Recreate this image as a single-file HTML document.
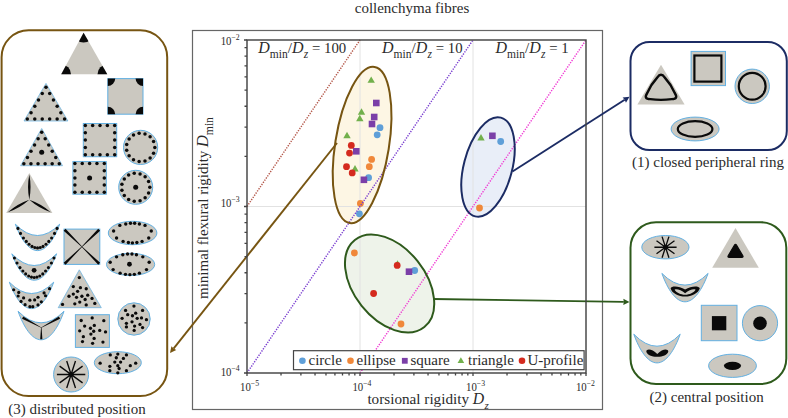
<!DOCTYPE html>
<html><head><meta charset="utf-8"><style>
html,body{margin:0;padding:0;background:#fff;}
svg{display:block;font-family:"Liberation Serif", serif;}
</style></head><body>
<svg width="788" height="418" viewBox="0 0 788 418">
<text x="412" y="13" text-anchor="middle" font-size="15" fill="#2b2b2b">collenchyma fibres</text>
<rect x="192.5" y="30.5" width="410" height="379" fill="none" stroke="#666" stroke-width="1.2"/>
<ellipse cx="362.1" cy="145.0" rx="26.9" ry="79.0" transform="rotate(9.07 362.1 145.0)" fill="#fdf6e4"/>
<ellipse cx="488.0" cy="167.0" rx="24.2" ry="51.0" transform="rotate(14.6 488.0 167.0)" fill="#e9eef8"/>
<ellipse cx="389.6" cy="283.5" rx="55.7" ry="35.8" transform="rotate(51.4 389.6 283.5)" fill="#eef3ea"/>
<g stroke="#e2e2e2" stroke-width="1">
<line x1="360.0" y1="40" x2="360.0" y2="373"/>
<line x1="473.0" y1="40" x2="473.0" y2="373"/>
<line x1="247" y1="206.5" x2="586" y2="206.5"/>
</g>
<path d="M371.20,76.43 L374.90,82.84 L367.50,82.84 Z" fill="#72b04c"/>
<rect x="373.00" y="99.70" width="6.6" height="6.6" fill="#7b3fa8"/>
<path d="M361.50,108.33 L365.20,114.74 L357.80,114.74 Z" fill="#72b04c"/>
<path d="M359.80,114.73 L363.50,121.14 L356.10,121.14 Z" fill="#72b04c"/>
<rect x="370.90" y="113.70" width="6.6" height="6.6" fill="#7b3fa8"/>
<rect x="368.70" y="120.70" width="6.6" height="6.6" fill="#7b3fa8"/>
<circle cx="380" cy="127.7" r="3.4" fill="#5f9fd8"/>
<circle cx="377.2" cy="134.8" r="3.4" fill="#5f9fd8"/>
<path d="M347.00,131.73 L350.70,138.14 L343.30,138.14 Z" fill="#72b04c"/>
<path d="M355.00,165.03 L358.70,171.44 L351.30,171.44 Z" fill="#72b04c"/>
<circle cx="351.3" cy="145.4" r="3.4" fill="#d42a1e"/>
<rect x="353.00" y="148.00" width="6.6" height="6.6" fill="#7b3fa8"/>
<circle cx="349.5" cy="153.1" r="3.4" fill="#d42a1e"/>
<circle cx="371.6" cy="159.4" r="3.4" fill="#f0883a"/>
<circle cx="369.3" cy="166.7" r="3.4" fill="#f0883a"/>
<circle cx="346.5" cy="166.7" r="3.4" fill="#d42a1e"/>
<circle cx="352.2" cy="172.9" r="3.4" fill="#d42a1e"/>
<circle cx="368.6" cy="177.7" r="3.4" fill="#5f9fd8"/>
<rect x="360.60" y="176.50" width="6.6" height="6.6" fill="#7b3fa8"/>
<circle cx="360.4" cy="203.4" r="3.4" fill="#f0883a"/>
<circle cx="359.4" cy="213.8" r="3.4" fill="#5f9fd8"/>
<path d="M481.00,134.03 L484.70,140.44 L477.30,140.44 Z" fill="#72b04c"/>
<rect x="489.10" y="132.50" width="6.6" height="6.6" fill="#7b3fa8"/>
<circle cx="500.7" cy="141.5" r="3.4" fill="#5f9fd8"/>
<circle cx="479.5" cy="208" r="3.4" fill="#f0883a"/>
<circle cx="354.4" cy="253" r="3.4" fill="#f0883a"/>
<path d="M397.50,260.35 L399.50,263.82 L395.50,263.82 Z" fill="#72b04c"/>
<circle cx="397.2" cy="265.4" r="3.4" fill="#d42a1e"/>
<circle cx="414.7" cy="270.5" r="3.4" fill="#5f9fd8"/>
<rect x="405.70" y="268.40" width="6.6" height="6.6" fill="#7b3fa8"/>
<circle cx="373.6" cy="293.5" r="3.4" fill="#d42a1e"/>
<circle cx="401" cy="324" r="3.4" fill="#f0883a"/>
<line x1="247.00" y1="206.50" x2="360.00" y2="40.00" stroke="#b4584a" stroke-width="1.45" stroke-dasharray="1.3 1.3"/>
<line x1="247.00" y1="373.00" x2="473.00" y2="40.00" stroke="#7a3fd0" stroke-width="1.45" stroke-dasharray="1.3 1.3"/>
<line x1="360.00" y1="373.00" x2="586.00" y2="40.00" stroke="#f03cd4" stroke-width="1.45" stroke-dasharray="1.3 1.3"/>
<line x1="337" y1="143" x2="173.55" y2="348.54" stroke="#775512" stroke-width="1.9"/>
<path d="M170.00,353.00 L171.43,346.22 L173.55,348.54 L176.29,350.08 Z" fill="#775512"/>
<line x1="512.5" y1="171.5" x2="624.70" y2="99.77" stroke="#1c2c64" stroke-width="1.9"/>
<path d="M629.50,96.70 L625.95,102.65 L624.69,99.77 L622.61,97.43 Z" fill="#1c2c64"/>
<line x1="433" y1="299" x2="623.80" y2="301.91" stroke="#2e5a1c" stroke-width="1.9"/>
<path d="M629.50,302.00 L623.25,305.00 L623.80,301.91 L623.35,298.81 Z" fill="#2e5a1c"/>
<ellipse cx="362.1" cy="145.0" rx="26.9" ry="79.0" transform="rotate(9.07 362.1 145.0)" fill="none" stroke="#775512" stroke-width="2.0"/>
<ellipse cx="488.0" cy="167.0" rx="24.2" ry="51.0" transform="rotate(14.6 488.0 167.0)" fill="none" stroke="#1c2c64" stroke-width="2.0"/>
<ellipse cx="389.6" cy="283.5" rx="55.7" ry="35.8" transform="rotate(51.4 389.6 283.5)" fill="none" stroke="#2e5a1c" stroke-width="2.0"/>
<rect x="247" y="40" width="339" height="333" fill="none" stroke="#444" stroke-width="1.45"/>
<path d="M247.00,373 v3 M281.02,373 v2.5 M300.91,373 v2.5 M315.03,373 v2.5 M325.98,373 v2.5 M334.93,373 v2.5 M342.50,373 v2.5 M349.05,373 v2.5 M354.83,373 v2.5 M360.00,373 v3 M394.02,373 v2.5 M413.91,373 v2.5 M428.03,373 v2.5 M438.98,373 v2.5 M447.93,373 v2.5 M455.50,373 v2.5 M462.05,373 v2.5 M467.83,373 v2.5 M473.00,373 v3 M507.02,373 v2.5 M526.91,373 v2.5 M541.03,373 v2.5 M551.98,373 v2.5 M560.93,373 v2.5 M568.50,373 v2.5 M575.05,373 v2.5 M580.83,373 v2.5 M586,373 v3 M247,373.00 h-3 M247,322.88 h-2.5 M247,293.56 h-2.5 M247,272.76 h-2.5 M247,256.62 h-2.5 M247,243.44 h-2.5 M247,232.29 h-2.5 M247,222.64 h-2.5 M247,214.12 h-2.5 M247,206.50 h-3 M247,156.38 h-2.5 M247,127.06 h-2.5 M247,106.26 h-2.5 M247,90.12 h-2.5 M247,76.94 h-2.5 M247,65.79 h-2.5 M247,56.14 h-2.5 M247,47.62 h-2.5 M247,40 h-3" stroke="#444" stroke-width="1.3" fill="none"/>
<text transform="translate(249.50,390.90) scale(0.9,1)" font-size="12" fill="#2b2b2b" text-anchor="middle">10<tspan dy="-4.8" font-size="8.6">−5</tspan></text>
<text transform="translate(361.90,390.90) scale(0.9,1)" font-size="12" fill="#2b2b2b" text-anchor="middle">10<tspan dy="-4.8" font-size="8.6">−4</tspan></text>
<text transform="translate(475.50,390.90) scale(0.9,1)" font-size="12" fill="#2b2b2b" text-anchor="middle">10<tspan dy="-4.8" font-size="8.6">−3</tspan></text>
<text transform="translate(585.40,390.90) scale(0.9,1)" font-size="12" fill="#2b2b2b" text-anchor="middle">10<tspan dy="-4.8" font-size="8.6">−2</tspan></text>
<text transform="translate(239.70,44.50) scale(0.9,1)" font-size="12" fill="#2b2b2b" text-anchor="end">10<tspan dy="-4.8" font-size="8.6">−2</tspan></text>
<text transform="translate(239.70,206.70) scale(0.9,1)" font-size="12" fill="#2b2b2b" text-anchor="end">10<tspan dy="-4.8" font-size="8.6">−3</tspan></text>
<text transform="translate(239.70,375.60) scale(0.9,1)" font-size="12" fill="#2b2b2b" text-anchor="end">10<tspan dy="-4.8" font-size="8.6">−4</tspan></text>
<text x="367.4" y="403.7" font-size="15.2" fill="#2b2b2b">torsional rigidity <tspan font-style="italic" font-size="15.8">D</tspan><tspan font-style="italic" font-size="11" dy="5" dx="0.3">z</tspan></text>
<text transform="translate(208.2,299) rotate(-90)" font-size="15" fill="#2b2b2b">minimal flexural rigidity <tspan font-style="italic" font-size="16.8" dx="-0.3">D</tspan><tspan font-size="11.6" dy="4.6">min</tspan></text>
<text x="258.2" y="52.7" font-size="15.2" fill="#2b2b2b"><tspan font-style="italic" font-size="16">D</tspan><tspan font-size="11.5" dy="5">min</tspan><tspan dy="-5">/</tspan><tspan font-style="italic" font-size="16">D</tspan><tspan font-style="italic" font-size="11.5" dy="5.6" dx="0.3">z</tspan><tspan dy="-5.6" dx="0" font-size="14.8"> = 100</tspan></text>
<text x="382" y="52.7" font-size="15.2" fill="#2b2b2b"><tspan font-style="italic" font-size="16">D</tspan><tspan font-size="11.5" dy="5">min</tspan><tspan dy="-5">/</tspan><tspan font-style="italic" font-size="16">D</tspan><tspan font-style="italic" font-size="11.5" dy="5.6" dx="0.3">z</tspan><tspan dy="-5.6" dx="0" font-size="14.8"> = 10</tspan></text>
<text x="495.5" y="52.7" font-size="15.2" fill="#2b2b2b"><tspan font-style="italic" font-size="16">D</tspan><tspan font-size="11.5" dy="5">min</tspan><tspan dy="-5">/</tspan><tspan font-style="italic" font-size="16">D</tspan><tspan font-style="italic" font-size="11.5" dy="5.6" dx="0.3">z</tspan><tspan dy="-5.6" dx="0" font-size="14.8"> = 1</tspan></text>
<rect x="293.5" y="350.7" width="290.6" height="19" fill="#fff" stroke="#444" stroke-width="1.2"/>
<circle cx="302.4" cy="360.8" r="3.3" fill="#5f9fd8"/>
<text x="308.5" y="365" font-size="15" fill="#2b2b2b">circle</text>
<circle cx="350.5" cy="360.8" r="3.3" fill="#f0883a"/>
<text x="356.5" y="365" font-size="15" fill="#2b2b2b">ellipse</text>
<rect x="401.90" y="357.90" width="5.8" height="5.8" fill="#7b3fa8"/>
<text x="410.5" y="365" font-size="15" fill="#2b2b2b">square</text>
<path d="M460.90,357.26 L464.20,362.97 L457.60,362.97 Z" fill="#72b04c"/>
<text x="468" y="365" font-size="15" fill="#2b2b2b">triangle</text>
<circle cx="522" cy="360.8" r="3.3" fill="#d42a1e"/>
<text x="527.5" y="365" font-size="15" fill="#2b2b2b">U-profile</text>
<rect x="1.6" y="30.2" width="165.6" height="365.8" rx="27" fill="none" stroke="#775512" stroke-width="2"/>
<rect x="630.5" y="42" width="156.3" height="108" rx="19" fill="none" stroke="#1c2c64" stroke-width="2"/>
<rect x="630.5" y="222.2" width="155.8" height="161.8" rx="25.5" fill="none" stroke="#2e5a1c" stroke-width="2"/>
<text x="708" y="167" text-anchor="middle" font-size="15" fill="#2b2b2b">(1) closed peripheral ring</text>
<text x="706.6" y="402.4" text-anchor="middle" font-size="15" fill="#2b2b2b">(2) central position</text>
<text x="77" y="414" text-anchor="middle" font-size="15" fill="#2b2b2b">(3) distributed position</text>
<path d="M661.00,64.80 L684.60,104.60 L637.40,104.60 Z" fill="#cbc8c0" stroke="none" stroke-width="0.7"/>
<path d="M657.19,77.67 Q661.00,71.80 664.81,77.67 Q671.27,84.72 674.89,93.23 Q678.70,99.10 671.70,99.10 Q661.00,100.70 650.30,99.10 Q643.30,99.10 647.11,93.23 Q650.73,84.72 657.19,77.67 Z" fill="none" stroke="#0a0a0a" stroke-width="2.4"/>
<rect x="691.10" y="51.40" width="34.40" height="34.20" fill="#cbc8c0" stroke="#62b0e2" stroke-width="1.0"/>
<rect x="694.4" y="55.5" width="27" height="26.1" fill="none" stroke="#0a0a0a" stroke-width="2.2"/>
<circle cx="752.20" cy="86.30" r="17.2" fill="#cbc8c0" stroke="#62b0e2" stroke-width="1.0"/>
<circle cx="752.2" cy="86.3" r="13.4" fill="none" stroke="#0a0a0a" stroke-width="2.2"/>
<ellipse cx="695.10" cy="129.00" rx="24" ry="11.9" fill="#cbc8c0" stroke="#62b0e2" stroke-width="1.0"/>
<ellipse cx="695.1" cy="129" rx="17.3" ry="7.9" fill="none" stroke="#0a0a0a" stroke-width="2.2"/>
<ellipse cx="665.40" cy="247.20" rx="23.6" ry="11.7" fill="#cbc8c0" stroke="#62b0e2" stroke-width="1.0"/>
<path d="M654.40,247.20 L676.60,247.20 M656.52,240.68 L674.48,253.72 M662.07,236.64 L668.93,257.76 M668.93,236.64 L662.07,257.76 M674.48,240.68 L656.52,253.72" stroke="#0a0a0a" stroke-width="1.35" fill="none"/>
<circle cx="665.50" cy="247.20" r="2.3" fill="#0a0a0a"/>
<path d="M735.50,228.00 L758.80,267.80 L712.20,267.80 Z" fill="#cbc8c0" stroke="none" stroke-width="0.7"/>
<path d="M734.38,245.20 Q735.50,243.30 736.62,245.20 L742.68,255.50 Q743.80,257.40 741.60,257.40 L729.40,257.40 Q727.20,257.40 728.32,255.50 Z" fill="#0a0a0a" stroke="#0a0a0a" stroke-width="1.2"/>
<path d="M661.90,273.40 Q685.00,296.80 708.10,273.40 C702.56,289.02 694.24,301.80 685.00,301.80 C675.76,301.80 667.44,289.02 661.90,273.40 Z" fill="#cbc8c0" stroke="#62b0e2" stroke-width="1.0"/>
<path d="M670.6,288.2 C671.5,285.6 679,285.6 685.1,289.6 C691.2,285.6 698.7,285.6 699.8,288.2 C698.5,293.2 691.5,296.6 685.1,296.6 C678.7,296.6 671.7,293.2 670.6,288.2 Z M674.6,289.8 C676,288.6 681,289.6 685.1,293.2 C689.2,289.6 694.2,288.6 695.6,289.8 C694,292.6 689.5,294.8 685.1,294.8 C680.7,294.8 676.2,292.6 674.6,289.8 Z" fill="#0a0a0a" fill-rule="evenodd"/>
<rect x="701.30" y="305.30" width="35.70" height="35.40" fill="#cbc8c0" stroke="#62b0e2" stroke-width="1.0"/>
<rect x="711.9" y="316.1" width="14.4" height="14.2" fill="#0a0a0a"/>
<circle cx="760.00" cy="323.20" r="17.6" fill="#cbc8c0" stroke="#62b0e2" stroke-width="1.0"/>
<circle cx="760" cy="323.2" r="6.8" fill="#0a0a0a"/>
<path d="M633.80,334.20 Q657.00,358.20 680.20,334.20 C674.63,349.98 666.28,362.90 657.00,362.90 C647.72,362.90 639.37,349.98 633.80,334.20 Z" fill="#cbc8c0" stroke="#62b0e2" stroke-width="1.0"/>
<path d="M646.3,351.4 C646.5,348.5 652,348.5 657.3,354 C662.5,348.5 668,348.5 668.3,351.4 C667.5,355 662,357 657.3,356.8 C652.5,357 647,355 646.3,351.4 Z" fill="#0a0a0a"/>
<ellipse cx="732.50" cy="365.80" rx="23.9" ry="11.6" fill="#cbc8c0" stroke="#62b0e2" stroke-width="1.0"/>
<ellipse cx="732.5" cy="365.8" rx="8.6" ry="4.1" fill="#0a0a0a"/>
<path d="M83.60,32.80 L107.30,74.20 L61.20,74.20 Z" fill="#cbc8c0" stroke="none" stroke-width="0.7"/>
<clipPath id="ct3"><path d="M83.60,32.80 L107.30,74.20 L61.20,74.20 Z"/></clipPath>
<g clip-path="url(#ct3)" fill="#0a0a0a"><circle cx="83.60" cy="32.80" r="9.8"/><circle cx="107.30" cy="74.20" r="9.8"/><circle cx="61.20" cy="74.20" r="9.8"/></g>
<rect x="107.80" y="78.60" width="35.20" height="35.60" fill="#cbc8c0" stroke="#62b0e2" stroke-width="1.0"/>
<clipPath id="cs3"><rect x="107.8" y="78.6" width="35.2" height="35.6"/></clipPath>
<g clip-path="url(#cs3)" fill="#0a0a0a"><circle cx="107.8" cy="78.6" r="7.4"/><circle cx="143" cy="78.6" r="7.4"/><circle cx="107.8" cy="114.2" r="7.4"/><circle cx="143" cy="114.2" r="7.4"/></g>
<path d="M46.00,83.40 L67.90,121.00 L24.00,121.00 Z" fill="#cbc8c0" stroke="#62b0e2" stroke-width="0.7"/>
<circle cx="46.00" cy="87.17" r="1.75" fill="#0a0a0a"/>
<circle cx="49.72" cy="93.55" r="1.75" fill="#0a0a0a"/>
<circle cx="53.44" cy="99.94" r="1.75" fill="#0a0a0a"/>
<circle cx="57.16" cy="106.33" r="1.75" fill="#0a0a0a"/>
<circle cx="60.87" cy="112.71" r="1.75" fill="#0a0a0a"/>
<circle cx="64.59" cy="119.10" r="1.75" fill="#0a0a0a"/>
<circle cx="57.14" cy="119.10" r="1.75" fill="#0a0a0a"/>
<circle cx="49.68" cy="119.10" r="1.75" fill="#0a0a0a"/>
<circle cx="42.23" cy="119.10" r="1.75" fill="#0a0a0a"/>
<circle cx="34.77" cy="119.10" r="1.75" fill="#0a0a0a"/>
<circle cx="27.31" cy="119.10" r="1.75" fill="#0a0a0a"/>
<circle cx="31.05" cy="112.71" r="1.75" fill="#0a0a0a"/>
<circle cx="34.79" cy="106.33" r="1.75" fill="#0a0a0a"/>
<circle cx="38.52" cy="99.94" r="1.75" fill="#0a0a0a"/>
<circle cx="42.26" cy="93.55" r="1.75" fill="#0a0a0a"/>
<path d="M41.70,128.50 L62.50,165.70 L20.60,165.70 Z" fill="#cbc8c0" stroke="#62b0e2" stroke-width="0.7"/>
<circle cx="41.69" cy="132.37" r="1.75" fill="#0a0a0a"/>
<circle cx="45.20" cy="138.66" r="1.75" fill="#0a0a0a"/>
<circle cx="48.72" cy="144.94" r="1.75" fill="#0a0a0a"/>
<circle cx="52.23" cy="151.23" r="1.75" fill="#0a0a0a"/>
<circle cx="55.75" cy="157.51" r="1.75" fill="#0a0a0a"/>
<circle cx="59.26" cy="163.80" r="1.75" fill="#0a0a0a"/>
<circle cx="52.18" cy="163.80" r="1.75" fill="#0a0a0a"/>
<circle cx="45.10" cy="163.80" r="1.75" fill="#0a0a0a"/>
<circle cx="38.02" cy="163.80" r="1.75" fill="#0a0a0a"/>
<circle cx="30.94" cy="163.80" r="1.75" fill="#0a0a0a"/>
<circle cx="23.86" cy="163.80" r="1.75" fill="#0a0a0a"/>
<circle cx="27.43" cy="157.51" r="1.75" fill="#0a0a0a"/>
<circle cx="30.99" cy="151.23" r="1.75" fill="#0a0a0a"/>
<circle cx="34.56" cy="144.94" r="1.75" fill="#0a0a0a"/>
<circle cx="38.12" cy="138.66" r="1.75" fill="#0a0a0a"/>
<circle cx="41.70" cy="152.20" r="2.5" fill="#0a0a0a"/>
<rect x="83.30" y="123.50" width="33.40" height="33.20" fill="#cbc8c0" stroke="#62b0e2" stroke-width="1.0"/>
<circle cx="85.30" cy="125.50" r="1.75" fill="#0a0a0a"/>
<circle cx="92.65" cy="125.50" r="1.75" fill="#0a0a0a"/>
<circle cx="100.00" cy="125.50" r="1.75" fill="#0a0a0a"/>
<circle cx="107.35" cy="125.50" r="1.75" fill="#0a0a0a"/>
<circle cx="114.70" cy="125.50" r="1.75" fill="#0a0a0a"/>
<circle cx="114.70" cy="132.80" r="1.75" fill="#0a0a0a"/>
<circle cx="114.70" cy="140.10" r="1.75" fill="#0a0a0a"/>
<circle cx="114.70" cy="147.40" r="1.75" fill="#0a0a0a"/>
<circle cx="114.70" cy="154.70" r="1.75" fill="#0a0a0a"/>
<circle cx="107.35" cy="154.70" r="1.75" fill="#0a0a0a"/>
<circle cx="100.00" cy="154.70" r="1.75" fill="#0a0a0a"/>
<circle cx="92.65" cy="154.70" r="1.75" fill="#0a0a0a"/>
<circle cx="85.30" cy="154.70" r="1.75" fill="#0a0a0a"/>
<circle cx="85.30" cy="147.40" r="1.75" fill="#0a0a0a"/>
<circle cx="85.30" cy="140.10" r="1.75" fill="#0a0a0a"/>
<circle cx="85.30" cy="132.80" r="1.75" fill="#0a0a0a"/>
<rect x="72.90" y="161.60" width="33.40" height="32.60" fill="#cbc8c0" stroke="#62b0e2" stroke-width="1.0"/>
<circle cx="74.90" cy="163.60" r="1.75" fill="#0a0a0a"/>
<circle cx="82.25" cy="163.60" r="1.75" fill="#0a0a0a"/>
<circle cx="89.60" cy="163.60" r="1.75" fill="#0a0a0a"/>
<circle cx="96.95" cy="163.60" r="1.75" fill="#0a0a0a"/>
<circle cx="104.30" cy="163.60" r="1.75" fill="#0a0a0a"/>
<circle cx="104.30" cy="170.75" r="1.75" fill="#0a0a0a"/>
<circle cx="104.30" cy="177.90" r="1.75" fill="#0a0a0a"/>
<circle cx="104.30" cy="185.05" r="1.75" fill="#0a0a0a"/>
<circle cx="104.30" cy="192.20" r="1.75" fill="#0a0a0a"/>
<circle cx="96.95" cy="192.20" r="1.75" fill="#0a0a0a"/>
<circle cx="89.60" cy="192.20" r="1.75" fill="#0a0a0a"/>
<circle cx="82.25" cy="192.20" r="1.75" fill="#0a0a0a"/>
<circle cx="74.90" cy="192.20" r="1.75" fill="#0a0a0a"/>
<circle cx="74.90" cy="185.05" r="1.75" fill="#0a0a0a"/>
<circle cx="74.90" cy="177.90" r="1.75" fill="#0a0a0a"/>
<circle cx="74.90" cy="170.75" r="1.75" fill="#0a0a0a"/>
<circle cx="89.60" cy="177.90" r="2.5" fill="#0a0a0a"/>
<circle cx="140.60" cy="147.40" r="17.1" fill="#cbc8c0" stroke="#62b0e2" stroke-width="1.0"/>
<circle cx="154.80" cy="147.40" r="1.75" fill="#0a0a0a"/>
<circle cx="153.57" cy="153.18" r="1.75" fill="#0a0a0a"/>
<circle cx="150.10" cy="157.95" r="1.75" fill="#0a0a0a"/>
<circle cx="144.99" cy="160.91" r="1.75" fill="#0a0a0a"/>
<circle cx="139.12" cy="161.52" r="1.75" fill="#0a0a0a"/>
<circle cx="133.50" cy="159.70" r="1.75" fill="#0a0a0a"/>
<circle cx="129.11" cy="155.75" r="1.75" fill="#0a0a0a"/>
<circle cx="126.71" cy="150.35" r="1.75" fill="#0a0a0a"/>
<circle cx="126.71" cy="144.45" r="1.75" fill="#0a0a0a"/>
<circle cx="129.11" cy="139.05" r="1.75" fill="#0a0a0a"/>
<circle cx="133.50" cy="135.10" r="1.75" fill="#0a0a0a"/>
<circle cx="139.12" cy="133.28" r="1.75" fill="#0a0a0a"/>
<circle cx="144.99" cy="133.89" r="1.75" fill="#0a0a0a"/>
<circle cx="150.10" cy="136.85" r="1.75" fill="#0a0a0a"/>
<circle cx="153.57" cy="141.62" r="1.75" fill="#0a0a0a"/>
<circle cx="135.70" cy="187.30" r="17" fill="#cbc8c0" stroke="#62b0e2" stroke-width="1.0"/>
<circle cx="149.80" cy="187.30" r="1.75" fill="#0a0a0a"/>
<circle cx="148.58" cy="193.03" r="1.75" fill="#0a0a0a"/>
<circle cx="145.13" cy="197.78" r="1.75" fill="#0a0a0a"/>
<circle cx="140.06" cy="200.71" r="1.75" fill="#0a0a0a"/>
<circle cx="134.23" cy="201.32" r="1.75" fill="#0a0a0a"/>
<circle cx="128.65" cy="199.51" r="1.75" fill="#0a0a0a"/>
<circle cx="124.29" cy="195.59" r="1.75" fill="#0a0a0a"/>
<circle cx="121.91" cy="190.23" r="1.75" fill="#0a0a0a"/>
<circle cx="121.91" cy="184.37" r="1.75" fill="#0a0a0a"/>
<circle cx="124.29" cy="179.01" r="1.75" fill="#0a0a0a"/>
<circle cx="128.65" cy="175.09" r="1.75" fill="#0a0a0a"/>
<circle cx="134.23" cy="173.28" r="1.75" fill="#0a0a0a"/>
<circle cx="140.06" cy="173.89" r="1.75" fill="#0a0a0a"/>
<circle cx="145.13" cy="176.82" r="1.75" fill="#0a0a0a"/>
<circle cx="148.58" cy="181.57" r="1.75" fill="#0a0a0a"/>
<circle cx="135.70" cy="187.30" r="2.5" fill="#0a0a0a"/>
<path d="M29.30,173.10 L52.40,212.90 L6.20,212.90 Z" fill="#cbc8c0" stroke="none" stroke-width="0.7"/>
<path d="M29.30,199.70 Q31.80,187.10 29.30,174.50 Q26.80,187.10 29.30,199.70 Z M29.30,199.70 Q38.79,208.11 50.80,212.20 Q41.31,203.79 29.30,199.70 Z M29.30,199.70 Q17.29,203.79 7.80,212.20 Q19.81,208.11 29.30,199.70 Z" fill="#0a0a0a"/>
<path d="M15.35,224.20 Q37.52,246.80 59.70,224.20 C54.38,238.72 46.39,250.60 37.52,250.60 C28.65,250.60 20.67,238.72 15.35,224.20 Z" fill="#cbc8c0" stroke="#62b0e2" stroke-width="1.0"/>
<circle cx="17.95" cy="228.40" r="1.55" fill="#0a0a0a"/>
<circle cx="57.10" cy="228.40" r="1.55" fill="#0a0a0a"/>
<circle cx="20.51" cy="233.39" r="1.55" fill="#0a0a0a"/>
<circle cx="54.54" cy="233.39" r="1.55" fill="#0a0a0a"/>
<circle cx="23.45" cy="238.01" r="1.55" fill="#0a0a0a"/>
<circle cx="51.60" cy="238.01" r="1.55" fill="#0a0a0a"/>
<circle cx="26.30" cy="241.41" r="1.55" fill="#0a0a0a"/>
<circle cx="48.75" cy="241.41" r="1.55" fill="#0a0a0a"/>
<circle cx="29.06" cy="244.29" r="1.55" fill="#0a0a0a"/>
<circle cx="45.99" cy="244.29" r="1.55" fill="#0a0a0a"/>
<circle cx="32.05" cy="246.40" r="1.55" fill="#0a0a0a"/>
<circle cx="43.00" cy="246.40" r="1.55" fill="#0a0a0a"/>
<circle cx="34.81" cy="247.51" r="1.55" fill="#0a0a0a"/>
<circle cx="40.24" cy="247.51" r="1.55" fill="#0a0a0a"/>
<circle cx="37.52" cy="247.91" r="1.55" fill="#0a0a0a"/>
<path d="M11.80,253.80 Q34.20,277.20 56.60,253.80 C51.22,268.32 43.16,280.20 34.20,280.20 C25.24,280.20 17.18,268.32 11.80,253.80 Z" fill="#cbc8c0" stroke="#62b0e2" stroke-width="1.0"/>
<circle cx="14.43" cy="258.00" r="1.55" fill="#0a0a0a"/>
<circle cx="53.97" cy="258.00" r="1.55" fill="#0a0a0a"/>
<circle cx="17.01" cy="262.99" r="1.55" fill="#0a0a0a"/>
<circle cx="51.39" cy="262.99" r="1.55" fill="#0a0a0a"/>
<circle cx="19.98" cy="267.61" r="1.55" fill="#0a0a0a"/>
<circle cx="48.42" cy="267.61" r="1.55" fill="#0a0a0a"/>
<circle cx="22.86" cy="271.01" r="1.55" fill="#0a0a0a"/>
<circle cx="45.54" cy="271.01" r="1.55" fill="#0a0a0a"/>
<circle cx="25.65" cy="273.89" r="1.55" fill="#0a0a0a"/>
<circle cx="42.75" cy="273.89" r="1.55" fill="#0a0a0a"/>
<circle cx="28.67" cy="276.00" r="1.55" fill="#0a0a0a"/>
<circle cx="39.73" cy="276.00" r="1.55" fill="#0a0a0a"/>
<circle cx="31.46" cy="277.11" r="1.55" fill="#0a0a0a"/>
<circle cx="36.94" cy="277.11" r="1.55" fill="#0a0a0a"/>
<circle cx="34.20" cy="277.51" r="1.55" fill="#0a0a0a"/>
<circle cx="34.10" cy="270.30" r="2.4" fill="#0a0a0a"/>
<path d="M9.35,282.20 Q31.53,304.80 53.70,282.20 C48.38,296.72 40.40,308.60 31.53,308.60 C22.66,308.60 14.67,296.72 9.35,282.20 Z" fill="#cbc8c0" stroke="#62b0e2" stroke-width="1.0"/>
<circle cx="13.71" cy="289.73" r="1.6" fill="#0a0a0a"/>
<circle cx="18.73" cy="292.41" r="1.6" fill="#0a0a0a"/>
<circle cx="18.14" cy="296.01" r="1.6" fill="#0a0a0a"/>
<circle cx="23.59" cy="297.93" r="1.6" fill="#0a0a0a"/>
<circle cx="21.08" cy="301.45" r="1.6" fill="#0a0a0a"/>
<circle cx="25.10" cy="304.63" r="1.6" fill="#0a0a0a"/>
<circle cx="29.87" cy="306.64" r="1.6" fill="#0a0a0a"/>
<circle cx="32.80" cy="306.64" r="1.6" fill="#0a0a0a"/>
<circle cx="29.87" cy="300.19" r="1.6" fill="#0a0a0a"/>
<circle cx="34.64" cy="299.94" r="1.6" fill="#0a0a0a"/>
<circle cx="37.99" cy="297.26" r="1.6" fill="#0a0a0a"/>
<circle cx="44.11" cy="292.91" r="1.6" fill="#0a0a0a"/>
<circle cx="49.55" cy="288.72" r="1.6" fill="#0a0a0a"/>
<circle cx="45.53" cy="295.76" r="1.6" fill="#0a0a0a"/>
<circle cx="41.34" cy="301.87" r="1.6" fill="#0a0a0a"/>
<circle cx="37.99" cy="304.97" r="1.6" fill="#0a0a0a"/>
<path d="M18.10,311.30 Q41.05,334.30 64.00,311.30 C58.49,326.98 50.23,339.80 41.05,339.80 C31.87,339.80 23.61,326.98 18.10,311.30 Z" fill="#cbc8c0" stroke="#62b0e2" stroke-width="1.0"/>
<path d="M22.03,318.66 L41.18,327.82 L41.42,327.38 L23.17,316.54 Z M58.92,316.55 L41.18,327.38 L41.42,327.82 L60.08,318.65 Z M42.40,339.20 L41.55,327.60 L41.05,327.60 L40.20,339.20 Z" fill="#0a0a0a"/>
<rect x="64.00" y="229.10" width="35.80" height="35.30" fill="#cbc8c0" stroke="#62b0e2" stroke-width="1.0"/>
<path d="M63.62,230.70 L81.76,246.89 L82.04,246.61 L65.58,228.70 Z M98.22,228.70 L81.76,246.61 L82.04,246.89 L100.18,230.70 Z M65.58,264.80 L82.04,246.89 L81.76,246.61 L63.62,262.80 Z M100.18,262.80 L82.04,246.61 L81.76,246.89 L98.22,264.80 Z" fill="#0a0a0a"/>
<ellipse cx="132.60" cy="233.00" rx="24.3" ry="11.7" fill="#cbc8c0" stroke="#62b0e2" stroke-width="1.0"/>
<circle cx="125.76" cy="223.93" r="1.7" fill="#0a0a0a"/>
<circle cx="130.50" cy="223.19" r="1.7" fill="#0a0a0a"/>
<circle cx="134.65" cy="223.19" r="1.7" fill="#0a0a0a"/>
<circle cx="139.40" cy="223.93" r="1.7" fill="#0a0a0a"/>
<circle cx="119.83" cy="225.41" r="1.7" fill="#0a0a0a"/>
<circle cx="145.03" cy="225.41" r="1.7" fill="#0a0a0a"/>
<circle cx="113.60" cy="231.05" r="1.7" fill="#0a0a0a"/>
<circle cx="151.26" cy="231.05" r="1.7" fill="#0a0a0a"/>
<circle cx="116.56" cy="238.01" r="1.7" fill="#0a0a0a"/>
<circle cx="148.74" cy="238.01" r="1.7" fill="#0a0a0a"/>
<circle cx="123.09" cy="241.42" r="1.7" fill="#0a0a0a"/>
<circle cx="128.42" cy="242.46" r="1.7" fill="#0a0a0a"/>
<circle cx="132.43" cy="242.91" r="1.7" fill="#0a0a0a"/>
<circle cx="136.88" cy="242.46" r="1.7" fill="#0a0a0a"/>
<circle cx="142.06" cy="241.42" r="1.7" fill="#0a0a0a"/>
<ellipse cx="130.60" cy="264.40" rx="24.1" ry="11.1" fill="#cbc8c0" stroke="#62b0e2" stroke-width="1.0"/>
<circle cx="122.79" cy="254.77" r="1.7" fill="#0a0a0a"/>
<circle cx="127.54" cy="254.03" r="1.7" fill="#0a0a0a"/>
<circle cx="131.98" cy="254.03" r="1.7" fill="#0a0a0a"/>
<circle cx="136.43" cy="254.77" r="1.7" fill="#0a0a0a"/>
<circle cx="116.56" cy="256.84" r="1.7" fill="#0a0a0a"/>
<circle cx="142.81" cy="256.84" r="1.7" fill="#0a0a0a"/>
<circle cx="110.19" cy="262.18" r="1.7" fill="#0a0a0a"/>
<circle cx="149.18" cy="262.18" r="1.7" fill="#0a0a0a"/>
<circle cx="113.15" cy="269.59" r="1.7" fill="#0a0a0a"/>
<circle cx="146.51" cy="269.59" r="1.7" fill="#0a0a0a"/>
<circle cx="120.12" cy="273.15" r="1.7" fill="#0a0a0a"/>
<circle cx="125.46" cy="274.34" r="1.7" fill="#0a0a0a"/>
<circle cx="129.91" cy="274.63" r="1.7" fill="#0a0a0a"/>
<circle cx="134.36" cy="274.34" r="1.7" fill="#0a0a0a"/>
<circle cx="139.40" cy="273.15" r="1.7" fill="#0a0a0a"/>
<circle cx="129.46" cy="264.26" r="2.4" fill="#0a0a0a"/>
<path d="M79.30,269.80 L101.30,307.70 L58.20,307.70 Z" fill="#cbc8c0" stroke="#62b0e2" stroke-width="0.7"/>
<circle cx="79.33" cy="277.54" r="1.65" fill="#0a0a0a"/>
<circle cx="73.30" cy="286.59" r="1.65" fill="#0a0a0a"/>
<circle cx="80.40" cy="287.66" r="1.65" fill="#0a0a0a"/>
<circle cx="86.22" cy="288.74" r="1.65" fill="#0a0a0a"/>
<circle cx="77.60" cy="291.32" r="1.65" fill="#0a0a0a"/>
<circle cx="68.99" cy="296.27" r="1.65" fill="#0a0a0a"/>
<circle cx="73.30" cy="294.12" r="1.65" fill="#0a0a0a"/>
<circle cx="76.53" cy="297.35" r="1.65" fill="#0a0a0a"/>
<circle cx="81.91" cy="296.27" r="1.65" fill="#0a0a0a"/>
<circle cx="87.72" cy="295.20" r="1.65" fill="#0a0a0a"/>
<circle cx="92.03" cy="298.43" r="1.65" fill="#0a0a0a"/>
<circle cx="85.14" cy="299.50" r="1.65" fill="#0a0a0a"/>
<circle cx="62.53" cy="304.45" r="1.65" fill="#0a0a0a"/>
<circle cx="74.81" cy="303.81" r="1.65" fill="#0a0a0a"/>
<circle cx="79.76" cy="302.09" r="1.65" fill="#0a0a0a"/>
<circle cx="86.22" cy="304.88" r="1.65" fill="#0a0a0a"/>
<circle cx="94.83" cy="303.38" r="1.65" fill="#0a0a0a"/>
<rect x="75.40" y="314.70" width="34.00" height="32.70" fill="#cbc8c0" stroke="#62b0e2" stroke-width="1.0"/>
<circle cx="81.20" cy="320.50" r="1.65" fill="#0a0a0a"/>
<circle cx="92.18" cy="317.92" r="1.65" fill="#0a0a0a"/>
<circle cx="103.81" cy="320.72" r="1.65" fill="#0a0a0a"/>
<circle cx="84.64" cy="326.10" r="1.65" fill="#0a0a0a"/>
<circle cx="94.33" cy="325.46" r="1.65" fill="#0a0a0a"/>
<circle cx="90.46" cy="328.26" r="1.65" fill="#0a0a0a"/>
<circle cx="79.69" cy="330.84" r="1.65" fill="#0a0a0a"/>
<circle cx="93.69" cy="331.27" r="1.65" fill="#0a0a0a"/>
<circle cx="99.72" cy="330.41" r="1.65" fill="#0a0a0a"/>
<circle cx="105.53" cy="331.92" r="1.65" fill="#0a0a0a"/>
<circle cx="90.89" cy="334.07" r="1.65" fill="#0a0a0a"/>
<circle cx="83.35" cy="336.65" r="1.65" fill="#0a0a0a"/>
<circle cx="94.12" cy="338.38" r="1.65" fill="#0a0a0a"/>
<circle cx="82.49" cy="341.61" r="1.65" fill="#0a0a0a"/>
<circle cx="92.61" cy="343.33" r="1.65" fill="#0a0a0a"/>
<circle cx="102.95" cy="342.04" r="1.65" fill="#0a0a0a"/>
<circle cx="134.00" cy="319.00" r="16.2" fill="#cbc8c0" stroke="#62b0e2" stroke-width="1.0"/>
<circle cx="133.95" cy="306.08" r="1.65" fill="#0a0a0a"/>
<circle cx="125.56" cy="310.38" r="1.65" fill="#0a0a0a"/>
<circle cx="142.57" cy="310.38" r="1.65" fill="#0a0a0a"/>
<circle cx="135.68" cy="313.18" r="1.65" fill="#0a0a0a"/>
<circle cx="127.71" cy="314.69" r="1.65" fill="#0a0a0a"/>
<circle cx="132.45" cy="315.77" r="1.65" fill="#0a0a0a"/>
<circle cx="122.11" cy="318.35" r="1.65" fill="#0a0a0a"/>
<circle cx="137.18" cy="318.35" r="1.65" fill="#0a0a0a"/>
<circle cx="141.49" cy="317.92" r="1.65" fill="#0a0a0a"/>
<circle cx="146.44" cy="319.64" r="1.65" fill="#0a0a0a"/>
<circle cx="132.02" cy="321.80" r="1.65" fill="#0a0a0a"/>
<circle cx="126.42" cy="323.30" r="1.65" fill="#0a0a0a"/>
<circle cx="139.98" cy="324.38" r="1.65" fill="#0a0a0a"/>
<circle cx="126.42" cy="326.96" r="1.65" fill="#0a0a0a"/>
<circle cx="134.60" cy="326.10" r="1.65" fill="#0a0a0a"/>
<circle cx="142.57" cy="327.61" r="1.65" fill="#0a0a0a"/>
<circle cx="134.17" cy="330.41" r="1.65" fill="#0a0a0a"/>
<ellipse cx="117.80" cy="362.70" rx="23.5" ry="11" fill="#cbc8c0" stroke="#62b0e2" stroke-width="1.0"/>
<circle cx="110.27" cy="354.96" r="1.65" fill="#0a0a0a"/>
<circle cx="117.80" cy="354.10" r="1.65" fill="#0a0a0a"/>
<circle cx="126.42" cy="354.96" r="1.65" fill="#0a0a0a"/>
<circle cx="116.30" cy="357.76" r="1.65" fill="#0a0a0a"/>
<circle cx="123.40" cy="358.40" r="1.65" fill="#0a0a0a"/>
<circle cx="100.15" cy="363.14" r="1.65" fill="#0a0a0a"/>
<circle cx="114.79" cy="362.06" r="1.65" fill="#0a0a0a"/>
<circle cx="120.60" cy="362.06" r="1.65" fill="#0a0a0a"/>
<circle cx="135.68" cy="363.14" r="1.65" fill="#0a0a0a"/>
<circle cx="109.84" cy="366.37" r="1.65" fill="#0a0a0a"/>
<circle cx="117.80" cy="365.72" r="1.65" fill="#0a0a0a"/>
<circle cx="130.29" cy="365.72" r="1.65" fill="#0a0a0a"/>
<circle cx="109.84" cy="370.68" r="1.65" fill="#0a0a0a"/>
<circle cx="119.10" cy="368.52" r="1.65" fill="#0a0a0a"/>
<circle cx="126.42" cy="370.68" r="1.65" fill="#0a0a0a"/>
<circle cx="117.80" cy="372.83" r="1.65" fill="#0a0a0a"/>
<circle cx="71.10" cy="374.50" r="17.5" fill="#cbc8c0" stroke="#62b0e2" stroke-width="1.0"/>
<path d="M56.90,374.50 L85.30,374.50 M59.61,366.15 L82.59,382.85 M66.71,360.99 L75.49,388.01 M75.49,360.99 L66.71,388.01 M82.59,366.15 L59.61,382.85" stroke="#0a0a0a" stroke-width="1.35" fill="none"/>
<circle cx="71.10" cy="374.50" r="2.3" fill="#0a0a0a"/>
</svg></body></html>
